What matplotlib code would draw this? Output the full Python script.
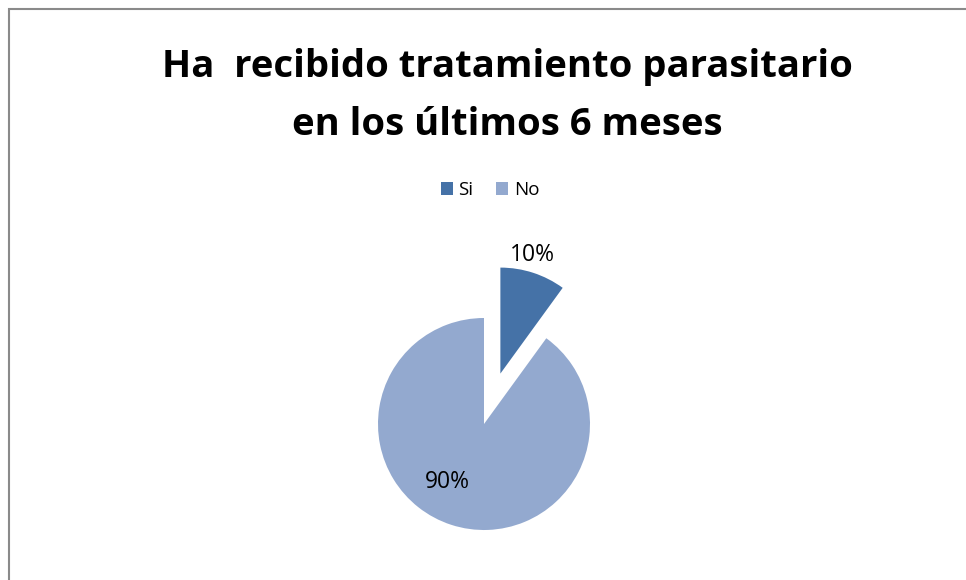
import matplotlib
matplotlib.use("Agg")
import matplotlib.pyplot as plt
from matplotlib.patches import Rectangle, Patch

# Data
categories = ["Si", "No"]
values = [10, 90]
pct_labels = ["10%", "90%"]
title_lines = ["Ha  recibido tratamiento parasitario", "en los últimos 6 meses"]
colors = ["#4572A7", "#93A9CF"]

W, H = 966, 580
DPI = 100
FONT = ["Open Sans", "DejaVu Sans"]

fig = plt.figure(figsize=(W / DPI, H / DPI), dpi=DPI)
fig.patch.set_facecolor("white")

def fx(px):
    return px / W

def fy(py):
    return 1 - py / H

# Chart frame (open at right and bottom edges of the image)
fig.patches.append(Rectangle((fx(8.5), fy(600)), fx(1000), fy(8.5) - fy(600),
                             transform=fig.transFigure, fill=False,
                             edgecolor="#8a8a8a", linewidth=1.5))

# Title, two centred lines
for line, base in zip(title_lines, (77, 135)):
    fig.text(fx(507), fy(base), line, ha="center", va="baseline",
             fontsize=27.5, fontweight="bold", family=FONT, color="black")

# Pie axes: centre at (484, 424) px, radius 106 px, data range +-2 radii
R = 106
cx, cy = 484, 424
k = 2.0
ax = fig.add_axes([fx(cx - k * R), fy(cy + k * R), 2 * k * R / W, 2 * k * R / H])

wedges, _ = ax.pie(values, startangle=90, counterclock=False,
                   explode=[0.5, 0], colors=colors, radius=1,
                   wedgeprops=dict(linewidth=0))
ax.set_xlim(-k, k)
ax.set_ylim(-k, k)
ax.set_aspect("equal")
ax.axis("off")

label_pos = [(0.46, 1.59), (-0.35, -0.55)]
for txt, (x, y) in zip(pct_labels, label_pos):
    ax.text(x, y, txt, ha="center", va="center", fontsize=16.5, family=FONT,
            color="black")

handles = [Patch(facecolor=c, edgecolor="none") for c in colors]
fig.legend(handles, categories, loc="center", bbox_to_anchor=(fx(490), fy(190)),
           ncol=2, frameon=False, prop=dict(family=FONT, size=13.5),
           handlelength=0.65, handleheight=0.65, handletextpad=0.3,
           columnspacing=1.2, borderaxespad=0)

fig.savefig("out.png", dpi=DPI, facecolor="white")
